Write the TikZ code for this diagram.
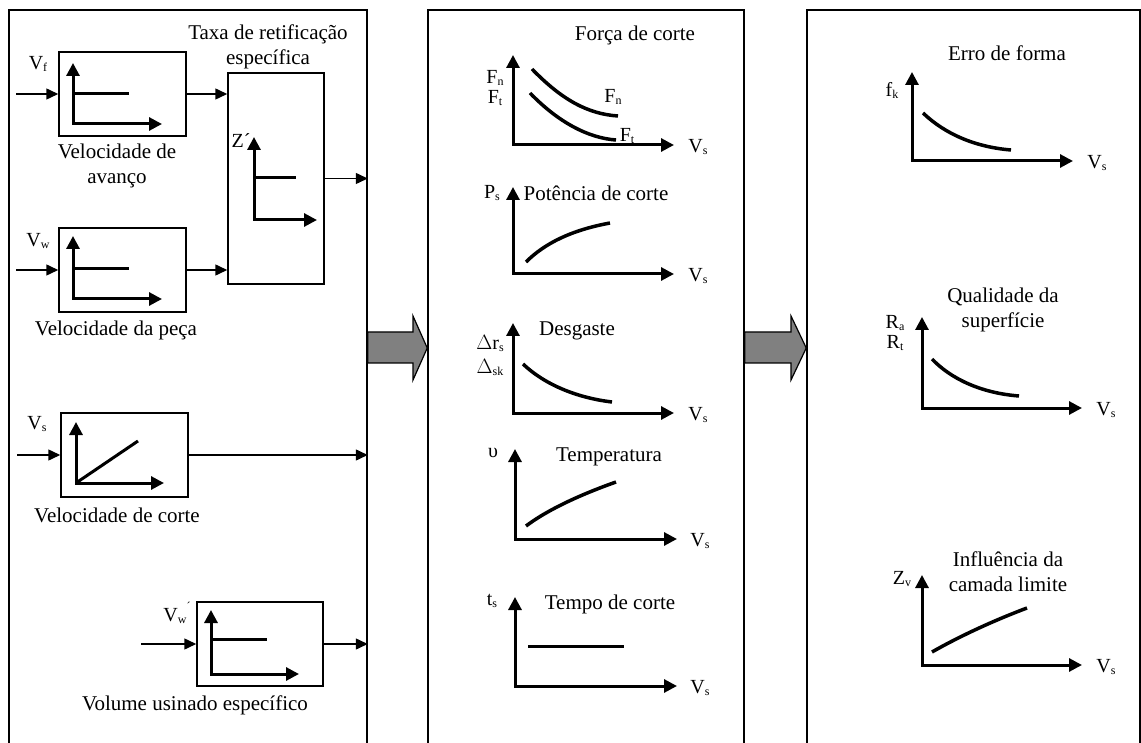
\documentclass[tikz,border=0pt]{standalone}
\usepackage{fontspec}
\setmainfont{Liberation Serif}
\usetikzlibrary{arrows.meta}
\newcommand\lsub[1]{\raisebox{-2pt}{\fontsize{12}{12}\selectfont #1}}
\newcommand\lsup[1]{\raisebox{0.55em}{\fontsize{12}{12}\selectfont #1}}
\tikzset{
  panel/.style={draw, line width=1.5pt, minimum height=790pt, inner sep=0pt},
  box/.style={draw, line width=1.5pt, inner sep=0pt, minimum width=127pt, minimum height=84pt},
  conn/.style={line width=1.5pt, -{Triangle[length=12pt,width=11pt]}},
  axis/.style={line width=3pt, {Triangle[length=13pt,width=13pt]}-{Triangle[length=13pt,width=13pt]}},
  curve/.style={line width=3.5pt},
  flat/.style={line width=3pt},
  title/.style={font=\fontsize{21}{25}\selectfont, align=center, inner sep=0pt},
  sym/.style={font=\fontsize{20}{22}\selectfont, inner sep=0pt},
  bigarrow/.style={draw, line width=1.2pt, fill=black!50},
}
\begin{document}
\begin{tikzpicture}[x=1pt,y=-1pt]
\useasboundingbox (0,0) rectangle (1141,743);
\fill[white] (0,0) rectangle (1141,743);

% three panels, open at the bottom
\node[panel, minimum width=358pt] (p1) at (188,405) {};
\node[panel, minimum width=316pt] (p2) at (586,405) {};
\node[panel, minimum width=333pt] (p3) at (973.5,405) {};

% ---------- input parameters ----------
\node[box] (bf) at (122.5,94) {};
\node[box] (bw) at (122.5,270) {};
\node[box] (bs) at (124.5,455) {};
\node[box, minimum width=126pt] (bv) at (260,644) {};
\node[box, minimum width=96pt, minimum height=211pt] (bz) at (276,178.5) {};

\coordinate (inf) at (16,94);
\coordinate (inw) at (16,270);
\coordinate (ins) at (17,455);
\coordinate (inv) at (141,644);
\draw[conn] (inf) -- (bf.west);
\draw[conn] (inw) -- (bw.west);
\draw[conn] (ins) -- (bs.west);
\draw[conn] (inv) -- (bv.west);
\draw[conn] (bf.east) -- (bf.east -| bz.west);
\draw[conn] (bw.east) -- (bw.east -| bz.west);
\draw[conn] (bz.east) -- (bz.east -| p1.east);
\draw[conn] (bs.east) -- (bs.east -| p1.east);
\draw[conn] (bv.east) -- (bv.east -| p1.east);

\node[sym] (lf) at (38,64) {V\lsub{f}};
\node[sym] (lw) at (38,241) {V\lsub{w}};
\node[sym] (ls) at (37,424) {V\lsub{s}};
\node[sym] (lv) at (177,613) {V\lsub{w}\lsup{´}};
\node[sym] (lz) at (241,141) {Z´};

% small graphs inside the boxes
\draw[axis] (73,63) -- (73,124) -- (162,124);
\draw[flat] (73,94) -- (129,94);
\draw[axis] (73,236) -- (73,299) -- (162,299);
\draw[flat] (73,269) -- (129,269);
\draw[axis] (76,422) -- (76,483) -- (164,483);
\draw[flat] (76,483) -- (138,441);
\draw[axis] (211,610) -- (211,674) -- (299,674);
\draw[flat] (211,639) -- (267,639);
\draw[axis] (254,137) -- (254,220) -- (317,220);
\draw[flat] (254,178) -- (296,178);

\node[title] (tz) at (268,47) {Taxa de retificação\\específica};
\node[title] (tf) at (117,166) {Velocidade de\\avanço};
\node[title] (tw) at (116,330) {Velocidade da peça};
\node[title] (ts) at (117,515) {Velocidade de corte};
\node[title] (tv) at (195,705) {Volume usinado específico};

% ---------- process quantities ----------
\node[title] (tfc) at (635,35) {Força de corte};
\draw[axis] (513,55) -- (513,145) -- (674,145);
\draw[curve] (532,69) .. controls (562,100) and (588,114) .. (618,116);
\draw[curve] (530,93) .. controls (558,122) and (588,138) .. (616,140);
\node[sym] at (495,78) {F\lsub{n}};
\node[sym] at (495,98) {F\lsub{t}};
\node[sym] at (613,97) {F\lsub{n}};
\node[sym] at (627,136) {F\lsub{t}};
\node[sym] at (698,147) {V\lsub{s}};

\node[title] (tpc) at (596,193) {Potência de corte};
\draw[axis] (513,187) -- (513,274) -- (674,274);
\draw[curve] (526,262) .. controls (545,243) and (572,230) .. (610,223);
\node[sym] at (492,193) {P\lsub{s}};
\node[sym] at (698,276) {V\lsub{s}};

\node[title] (tdg) at (577,331) {Desgaste};
\draw[axis] (513,323) -- (513,413) -- (674,413);
\draw[curve] (523,364) .. controls (545,385) and (578,398) .. (612,402);
\node[sym] at (490,343) {$\Delta$r\lsub{s}};
\node[sym] at (490,367) {$\Delta$\lsub{sk}};
\node[sym] at (698,415) {V\lsub{s}};

\node[title] (ttp) at (609,457) {Temperatura};
\draw[axis] (515,449) -- (515,539) -- (677,539);
\draw[curve] (526,526) .. controls (550,508) and (585,493) .. (616,482);
\node[sym] at (493,453) {υ};
\node[sym] at (700,541) {V\lsub{s}};

\node[title] (ttc) at (610,604) {Tempo de corte};
\draw[axis] (515,597) -- (515,686) -- (677,686);
\draw[flat] (528,646) -- (624,646);
\node[sym] at (492,601) {t\lsub{s}};
\node[sym] at (700,688) {V\lsub{s}};

% ---------- results ----------
\node[title] (tef) at (1007,53) {Erro de forma};
\draw[axis] (912,72) -- (912,161) -- (1073,161);
\draw[curve] (923,113) .. controls (945,134) and (975,147) .. (1011,150);
\node[sym] at (892,90) {f\lsub{k}};
\node[sym] at (1097,163) {V\lsub{s}};

\node[title] (tqs) at (1003,310) {Qualidade da\\superfície};
\draw[axis] (922,317) -- (922,408) -- (1082,408);
\draw[curve] (932,359) .. controls (950,378) and (980,393) .. (1019,396);
\node[sym] at (895,323) {R\lsub{a}};
\node[sym] at (895,343) {R\lsub{t}};
\node[sym] at (1106,410) {V\lsub{s}};

\node[title] (tcl) at (1008,572) {Influência da\\camada limite};
\draw[axis] (922,575) -- (922,665) -- (1082,665);
\draw[curve] (932,652) .. controls (960,636) and (995,620) .. (1027,608);
\node[sym] at (902,579) {Z\lsub{v}};
\node[sym] at (1106,667) {V\lsub{s}};

% ---------- block arrows between the panels ----------
\draw[bigarrow] (p1.east |- 0,332) -- (413,332) -- (413,316) -- (p2.west |- 0,348)
  -- (413,380) -- (413,363) -- (p1.east |- 0,363) -- cycle;
\draw[bigarrow] (p2.east |- 0,332) -- (791,332) -- (791,316) -- (p3.west |- 0,348)
  -- (791,380) -- (791,363) -- (p2.east |- 0,363) -- cycle;
\end{tikzpicture}
\end{document}
